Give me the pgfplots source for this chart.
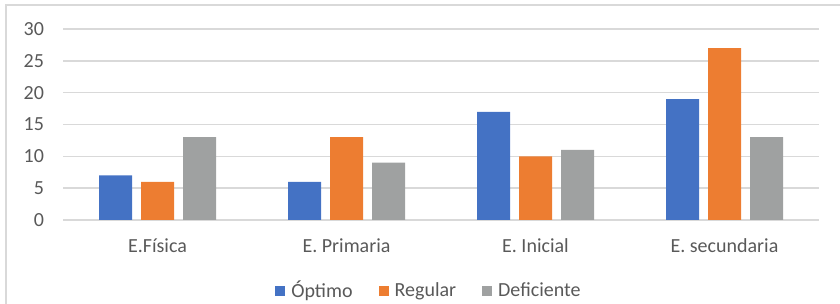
\documentclass[border=0pt]{standalone}
\usepackage{fontspec}
\setmainfont{Carlito}
\usepackage{pgfplots}
\pgfplotsset{compat=1.18}
\definecolor{cblue}{HTML}{4472C4}
\definecolor{corange}{HTML}{ED7D31}
\definecolor{cgray}{HTML}{9FA1A1}
\definecolor{ctext}{HTML}{595959}
\definecolor{cgrid}{HTML}{D9D9D9}
\begin{document}
\begin{tikzpicture}
\useasboundingbox (0,0) rectangle (420pt,152pt);
\draw[cgrid, line width=0.8pt] (3pt,0) -- (3pt,149.5pt) -- (420pt,149.5pt);
\begin{axis}[
  at={(31.5pt,42pt)}, anchor=south west,
  scale only axis, width=378pt, height=95.5pt,
  xmin=-0.5, xmax=3.5, ymin=0, ymax=30,
  ybar=4.5pt, bar width=16.5pt,
  xtick={0,1,2,3},
  xticklabels={E.Física, E. Primaria, E. Inicial, E. secundaria},
  ytick={0,5,10,15,20,25,30},
  ymajorgrids, grid style={cgrid, line width=0.7pt},
  axis line style={draw=none},
  major tick length=0pt,
  tick label style={font=\fontsize{10}{12}\selectfont, text=ctext},
  /pgf/number format/assume math mode=true,
  yticklabel style={xshift=-6pt},
  xticklabel style={yshift=-6pt},
  legend style={at={(0.4854,-0.3717)}, anchor=center, draw=none, fill=none,
    legend columns=3, font=\fontsize{10}{12}\selectfont, text=ctext,
    /tikz/every even column/.append style={column sep=11pt},
    /tikz/every odd column/.append style={column sep=1pt}},
  legend cell align=left,
  legend image code/.code={\fill[#1] (0pt,-2.5pt) rectangle (5pt,2.5pt);},
]
\addplot[fill=cblue, draw=none] coordinates {(0,7) (1,6) (2,17) (3,19)};
\addplot[fill=corange, draw=none] coordinates {(0,6) (1,13) (2,10) (3,27)};
\addplot[fill=cgray, draw=none] coordinates {(0,13) (1,9) (2,11) (3,13)};
\legend{Óptimo, Regular, Deficiente}
\end{axis}
\end{tikzpicture}
\end{document}
